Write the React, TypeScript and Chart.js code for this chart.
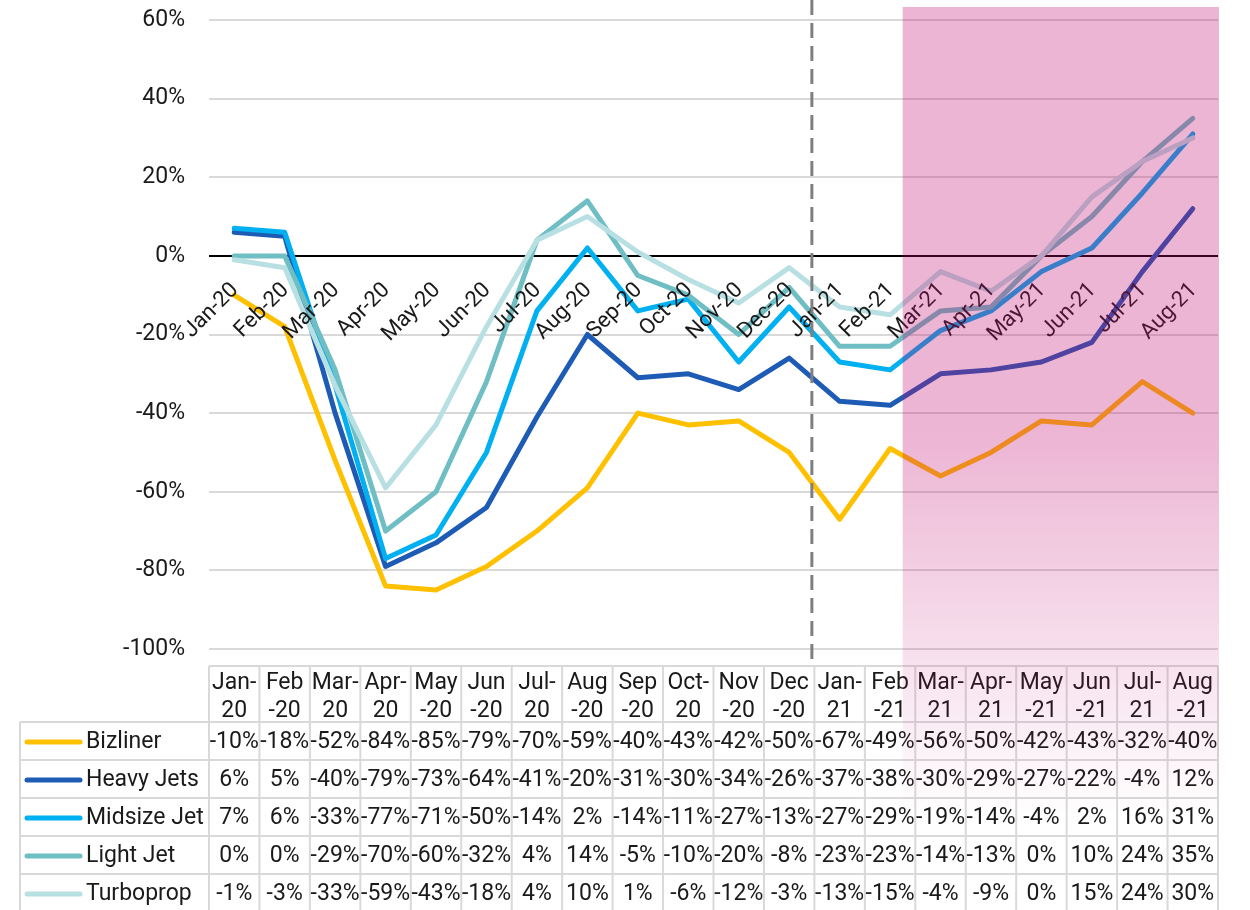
import React, { useEffect, useRef } from 'react';
import { Chart, registerables } from 'chart.js';

Chart.register(...registerables);

const months = ['Jan-20', 'Feb-20', 'Mar-20', 'Apr-20', 'May-20', 'Jun-20', 'Jul-20', 'Aug-20', 'Sep-20', 'Oct-20', 'Nov-20', 'Dec-20', 'Jan-21', 'Feb-21', 'Mar-21', 'Apr-21', 'May-21', 'Jun-21', 'Jul-21', 'Aug-21'];
const headerLines = [['Jan-', '20'], ['Feb', '-20'], ['Mar-', '20'], ['Apr-', '20'], ['May', '-20'], ['Jun', '-20'], ['Jul-', '20'], ['Aug', '-20'], ['Sep', '-20'], ['Oct-', '20'], ['Nov', '-20'], ['Dec', '-20'], ['Jan-', '21'], ['Feb', '-21'], ['Mar-', '21'], ['Apr-', '21'], ['May', '-21'], ['Jun', '-21'], ['Jul-', '21'], ['Aug', '-21']];

const bizliner = [-10, -18, -52, -84, -85, -79, -70, -59, -40, -43, -42, -50, -67, -49, -56, -50, -42, -43, -32, -40];
const heavyJets = [6, 5, -40, -79, -73, -64, -41, -20, -31, -30, -34, -26, -37, -38, -30, -29, -27, -22, -4, 12];
const midsizeJet = [7, 6, -33, -77, -71, -50, -14, 2, -14, -11, -27, -13, -27, -29, -19, -14, -4, 2, 16, 31];
const lightJet = [0, 0, -29, -70, -60, -32, 4, 14, -5, -10, -20, -8, -23, -23, -14, -13, 0, 10, 24, 35];
const turboprop = [-1, -3, -33, -59, -43, -18, 4, 10, 1, -6, -12, -3, -13, -15, -4, -9, 0, 15, 24, 30];

const seriesNames = ['Bizliner', 'Heavy Jets', 'Midsize Jet', 'Light Jet', 'Turboprop'];
const seriesValues = [bizliner, heavyJets, midsizeJet, lightJet, turboprop];
const seriesColors = ['#FFC000', '#1E5BB5', '#00B0F0', '#6FBEC4', '#B8E0E3'];

const yMin = -100;
const yMax = 60;
const yStep = 20;

const FONT = 'Roboto, "Noto Sans", sans-serif';
const TEXT = '#1a1a1a';

const overlayPlugin = {
  id: 'tableAndOverlay',
  afterDraw(chart: any) {
    const { ctx, chartArea, scales } = chart;
    const x = scales.x;
    const y = scales.y;
    const H = chart.height;
    const y0 = y.getPixelForValue(0);

    ctx.save();
    // rotated category labels
    ctx.fillStyle = TEXT;
    ctx.font = `22px ${FONT}`;
    months.forEach((m, i) => {
      const cx = x.getPixelForValue(i);
      ctx.save();
      ctx.translate(cx + 1, y0 + 31);
      ctx.rotate(-Math.PI / 4);
      ctx.textAlign = 'right';
      ctx.textBaseline = 'middle';
      ctx.fillText(m, 0, 0);
      ctx.restore();
    });

    // data table
    const left = x.getPixelForValue(-0.5);
    const right = x.getPixelForValue(months.length - 0.5);
    const headTop = chartArea.bottom + 17;
    const headBot = headTop + 56;
    const rowH = 38;
    const legendLeft = 20;
    ctx.strokeStyle = '#d9d9d9';
    ctx.lineWidth = 2;
    ctx.beginPath();
    ctx.moveTo(left, headTop);
    ctx.lineTo(right, headTop);
    for (let r = 0; r <= seriesNames.length; r++) {
      const yb = headBot + r * rowH;
      ctx.moveTo(legendLeft, yb);
      ctx.lineTo(right, yb);
    }
    for (let i = 0; i <= months.length; i++) {
      const xi = x.getPixelForValue(i - 0.5);
      ctx.moveTo(xi, headTop);
      ctx.lineTo(xi, H + 5);
    }
    ctx.moveTo(legendLeft, headBot);
    ctx.lineTo(legendLeft, H + 5);
    ctx.stroke();

    ctx.fillStyle = TEXT;
    ctx.font = `23px ${FONT}`;
    ctx.textAlign = 'center';
    ctx.textBaseline = 'alphabetic';
    headerLines.forEach((lines, i) => {
      const cx = x.getPixelForValue(i);
      ctx.fillText(lines[0], cx, headTop + 23);
      ctx.fillText(lines[1], cx, headTop + 51);
    });

    ctx.textBaseline = 'middle';
    seriesNames.forEach((name, r) => {
      const cy = headBot + r * rowH + rowH / 2 + 1;
      ctx.strokeStyle = seriesColors[r];
      ctx.lineWidth = 5;
      ctx.lineCap = 'round';
      ctx.beginPath();
      ctx.moveTo(27, cy);
      ctx.lineTo(80, cy);
      ctx.stroke();
      ctx.fillStyle = TEXT;
      ctx.textAlign = 'left';
      ctx.fillText(name, 86, cy);
      ctx.textAlign = 'center';
      seriesValues[r].forEach((v, i) => {
        ctx.fillText(`${v}%`, x.getPixelForValue(i), cy);
      });
    });

    // dashed divider
    const dx = x.getPixelForValue(11.45);
    ctx.strokeStyle = '#7f7f7f';
    ctx.lineWidth = 3;
    ctx.lineCap = 'butt';
    ctx.setLineDash([15, 8]);
    ctx.beginPath();
    ctx.moveTo(dx, 0);
    ctx.lineTo(dx, chartArea.bottom + 12);
    ctx.stroke();
    ctx.setLineDash([]);

    // forecast overlay
    const ox1 = x.getPixelForValue(13.25);
    const ox2 = right + 1;
    const oy1 = chartArea.top - 13;
    const oy2 = 815;
    const g = ctx.createLinearGradient(0, oy1, 0, oy2);
    const fadeStart = (436 - oy1) / (oy2 - oy1);
    g.addColorStop(0, 'rgba(192,10,112,0.3)');
    g.addColorStop(fadeStart, 'rgba(192,10,112,0.3)');
    g.addColorStop(1, 'rgba(192,10,112,0)');
    ctx.fillStyle = g;
    ctx.fillRect(ox1, oy1, ox2 - ox1, oy2 - oy1);
    ctx.restore();
  },
};

export default function App() {
  const ref = useRef<HTMLCanvasElement | null>(null);
  useEffect(() => {
    if (!ref.current) return;
    const chart = new Chart(ref.current, {
      type: 'line',
      data: {
        labels: months,
        datasets: seriesNames.map((name, i) => ({
          label: name,
          data: seriesValues[i],
          borderColor: seriesColors[i],
          backgroundColor: seriesColors[i],
          borderWidth: 5,
          borderCapStyle: 'round',
          borderJoinStyle: 'round',
          pointRadius: 0,
          tension: 0,
          fill: false,
          order: seriesNames.length - i,
        })),
      },
      options: {
        responsive: false,
        animation: false,
        devicePixelRatio: 1,
        layout: { autoPadding: false, padding: { top: 20, right: 32, bottom: 261, left: 0 } },
        plugins: { legend: { display: false }, tooltip: { enabled: false } },
        scales: {
          x: { type: 'category', display: false, offset: true },
          y: {
            min: yMin,
            max: yMax,
            afterFit: (s: any) => {
              s.width = 209;
              s.paddingTop = 0;
              s.paddingBottom = 0;
            },
            border: { display: false },
            grid: {
              drawTicks: false,
              lineWidth: 2,
              color: (c: any) => (c.tick && c.tick.value === 0 ? '#000000' : '#d9d9d9'),
            },
            ticks: {
              stepSize: yStep,
              padding: 24,
              color: TEXT,
              font: { family: FONT, size: 23 },
              callback: (v: any) => `${v}%`,
            },
          },
        },
      },
      plugins: [overlayPlugin],
    } as any);
    return () => chart.destroy();
  }, []);
  return (
    <div style={{ position: 'absolute', left: 0, top: 0, width: 1250, height: 910, background: '#fff' }}>
      <canvas ref={ref} width={1250} height={910} style={{ display: 'block', width: 1250, height: 910 }} />
    </div>
  );
}
